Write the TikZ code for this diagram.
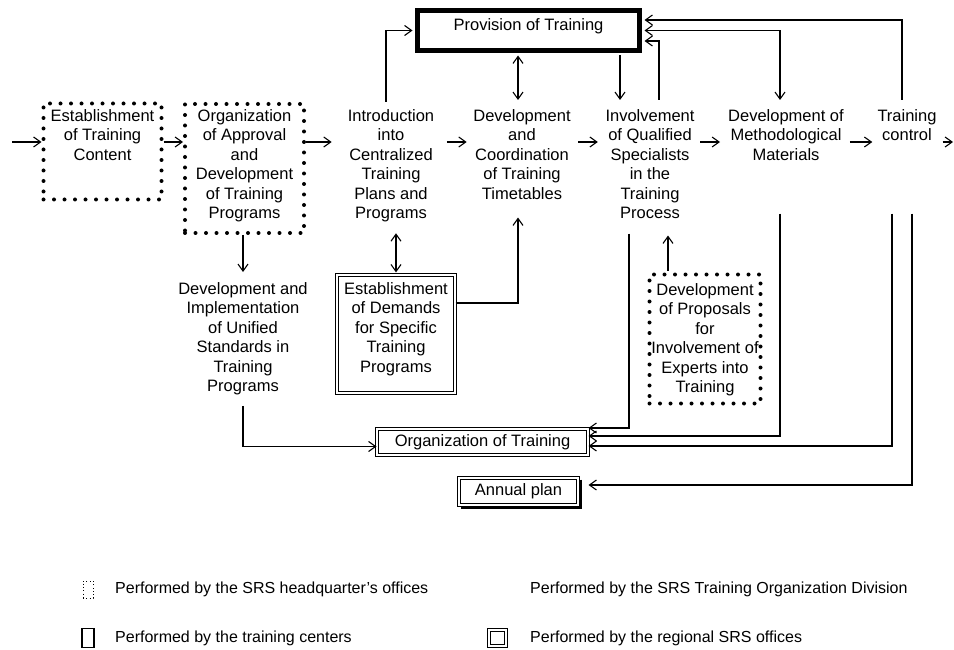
\documentclass[tikz,border=0pt]{standalone}
\usepackage{fontspec}
\setmainfont{Liberation Sans}
\usetikzlibrary{arrows.meta,calc}

\begin{document}
\begin{tikzpicture}[x=1pt,y=-1pt,
  >={Straight Barb[length=7pt,width=10pt]},
  every node/.style={font=\fontsize{16.5}{19.5}\selectfont},
  txt/.style={align=center, inner sep=0pt, anchor=north},
  legtxt/.style={anchor=west, inner sep=0pt, font=\fontsize{16}{19}\selectfont},
  dotbox/.style={draw, line width=4pt, line cap=round, dash pattern=on 0pt off 10.5pt, inner sep=0pt},
  dblbox/.style={draw, double, double distance=1.6pt, line width=1pt, inner sep=0pt},
  thickbox/.style={draw, line width=5pt, inner sep=0pt},
  conn/.style={line width=1.1pt, ->},
  biconn/.style={line width=1.1pt, <->},
]
\useasboundingbox (0,0) rectangle (954,650);

% ---------- boxes ----------
\node[thickbox, minimum width=222pt, minimum height=40pt, text height=12pt, text depth=12pt] (prov) at (528.5,30.5) {Provision of Training};

\node[dotbox, minimum width=118pt, minimum height=96pt] (estbox) at (102.5,151.5) {};
\node[txt] (est) at (102.5,109) {Establishment\\of Training\\Content};

\node[dotbox, minimum width=119pt, minimum height=129pt] (orgAbox) at (244.5,168.5) {};
\node[txt] (orgA) at (244.5,109) {Organization\\of Approval\\and\\Development\\of Training\\Programs};

\node[txt] (intro) at (391,109) {Introduction\\into\\Centralized\\Training\\Plans and\\Programs};
\node[txt] (devcoord) at (522,109) {Development\\and\\Coordination\\of Training\\Timetables};
\node[txt] (involve) at (650,109) {Involvement\\of Qualified\\Specialists\\in the\\Training\\Process};
\node[txt] (devmeth) at (786,109) {Development of\\Methodological\\Materials};
\node[txt] (tctrl) at (907,109) {Training\\control};

\node[txt] (devimpl) at (243,282) {Development and\\Implementation\\of Unified\\Standards in\\Training\\Programs};

\node[dblbox, line width=1.2pt, minimum width=118pt, minimum height=118pt] (demandsbox) at (396,334) {};
\node[txt] (demands) at (396,282) {Establishment\\of Demands\\for Specific\\Training\\Programs};

\node[dotbox, minimum width=111pt, minimum height=129pt] (proposalsbox) at (705,339) {};
\node[txt] (proposals) at (705,283) {Development\\of Proposals\\for\\Involvement of\\Experts into\\Training};

\node[dblbox, minimum width=211pt, minimum height=26pt] (orgtrain) at (482.5,442) {Organization of Training};
\node[dblbox, minimum width=119pt, minimum height=27pt] (annual) at (518.5,491.5) {Annual plan};
\draw[line width=1.6pt] ($(annual.north east)+(2.5,2)$) -- ($(annual.south east)+(2.5,2.5)$) -- ($(annual.south west)+(2,2.5)$);

% ---------- helper columns and row ----------
\coordinate (xA) at (386,0);
\coordinate (xB) at (518,0);
\coordinate (xC) at (620,0);
\coordinate (xD) at (659,0);
\coordinate (xE) at (780,0);
\coordinate (xF) at (902,0);
\coordinate (xG) at (396,0);
\coordinate (xH) at (629,0);
\coordinate (xI) at (668,0);
\coordinate (xJ) at (892,0);
\coordinate (xK) at (912,0);
\coordinate (yA) at (0,142);
\coordinate (in) at (12,142);
\coordinate (out) at (953,142);

% ---------- main flow ----------
\draw[conn] (in) -- (estbox.west |- yA);
\draw[conn] (estbox.east |- yA) -- (orgAbox.west |- yA);
\draw[conn, shorten >=16pt] (orgAbox.east |- yA) -- (intro.west |- yA);
\draw[conn, shorten <=12.5pt, shorten >=6.5pt] (intro.east |- yA) -- (devcoord.west |- yA);
\draw[conn, shorten <=7.5pt, shorten >=7.5pt] (devcoord.east |- yA) -- (involve.west |- yA);
\draw[conn, shorten <=5.5pt, shorten >=8pt] (involve.east |- yA) -- (devmeth.west |- yA);
\draw[conn, shorten <=6pt, shorten >=5pt] (devmeth.east |- yA) -- (tctrl.west |- yA);
\draw[conn, shorten <=6pt] (tctrl.east |- yA) -- (out);

% ---------- links with Provision of Training ----------
\draw[conn, shorten <=7pt, shorten >=2.5pt] (xA |- intro.north) |- (prov.west);
\draw[biconn, shorten <=2.5pt, shorten >=9pt] (xB |- prov.south) -- (xB |- devcoord.north);
\draw[conn, shorten <=2.5pt, shorten >=9pt] (xC |- prov.south) -- (xC |- involve.north);
\draw[conn, shorten <=9pt, shorten >=2.5pt] (xD |- involve.north) |- ($(prov.east)+(0,10.5)$);
\draw[biconn, shorten <=2.5pt, shorten >=9pt] (prov.east) -| (xE |- devmeth.north);
\draw[conn, shorten <=9pt, shorten >=2.5pt] (xF |- tctrl.north) |- ($(prov.east)+(0,-10.5)$);

% ---------- lower links ----------
\draw[biconn, shorten <=11pt, shorten >=2pt] (xG |- intro.south) -- (xG |- demandsbox.north);
\draw[conn] ($(demandsbox.east)+(0,-31)$) -| ($(xB |- devcoord.south)+(0,18)$);
\draw[conn, shorten >=10pt] (orgAbox.south -| devimpl.north) -- (devimpl.north);
\draw[conn] ($(devimpl.south)+(0,10.5)$) |- ($(orgtrain.west)+(0,4.5)$);
\draw[conn] ($(xH |- involve.south)+(0,14.5)$) |- ($(orgtrain.east)+(0,-14)$);
\draw[conn, shorten <=2pt] (xI |- proposalsbox.north) -- ($(xI |- involve.south)+(0,16.5)$);
\draw[conn] ($(xE |- devmeth.south)+(0,53)$) |- ($(orgtrain.east)+(0,-6)$);
\draw[conn] ($(xJ |- tctrl.south)+(0,72.5)$) |- ($(orgtrain.east)+(0,4)$);
\draw[conn, shorten >=10pt] ($(xK |- tctrl.south)+(0,72.5)$) |- ($(annual.east)+(0,-6.5)$);

% ---------- legend ----------
\node[draw, line width=0.7pt, dash pattern=on 0.7pt off 2.6pt, minimum width=10pt, minimum height=17pt, inner sep=0pt] (sym1) at (88,589.5) {};
\node[legtxt] (lg1) at (115,589) {Performed by the SRS headquarter's offices};
\node[legtxt] (lg2) at (530,589) {Performed by the SRS Training Organization Division};
\node[draw, line width=1.2pt, minimum width=12pt, minimum height=19pt, inner sep=0pt] (sym2) at (88,638) {};
\node[legtxt] (lg3) at (115,638) {Performed by the training centers};
\node[dblbox, minimum width=17pt, minimum height=16pt] (sym3) at (497.5,638) {};
\node[legtxt] (lg4) at (530,638) {Performed by the regional SRS offices};
\end{tikzpicture}
\end{document}
